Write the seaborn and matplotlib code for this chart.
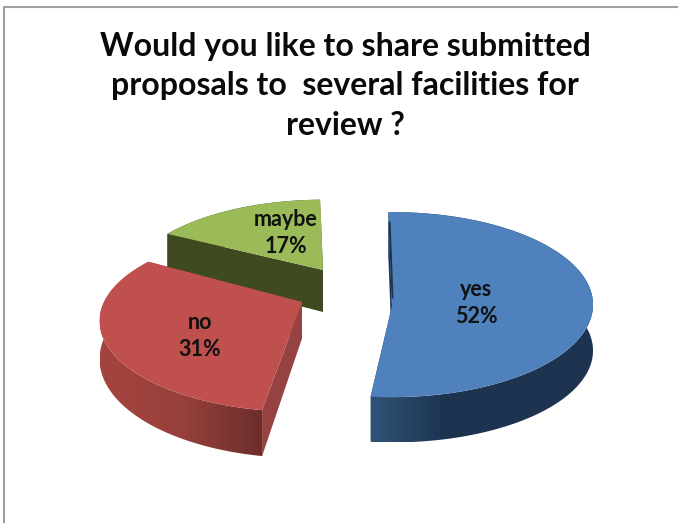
import numpy as np
import matplotlib
matplotlib.use("Agg")
import matplotlib.pyplot as plt
from matplotlib.patches import Polygon
from matplotlib.transforms import Transform
import seaborn as sns

TITLE = "Would you like to share submitted\nproposals to  several facilities for\nreview ?"
labels = ["yes", "no", "maybe"]
values = [52, 31, 17]
top_colors = ["#4f81bd", "#c0504d", "#9bbb59"]
side_colors = [["#305478", "#1d3350", "#1d3350", "#1d3350"],
               ["#a5443f", "#98403c", "#6c2d2b"],
               ["#3f4a20", "#3f4a20"]]
face_colors = ["#1d3350", "#964240", "#3f4a20"]

# how each slice sits on the page: centre, radii, perspective, rotation, thickness
layout = {
    "yes": dict(cx=392, cy=306, rx=201, k=92.5, a=-0.015, rot=0, thick=46),
    "no": dict(cx=302, cy=302, rx=198, k=87, a=0.209, rot=-3, thick=36.4),
    "maybe": dict(cx=323, cy=270, rx=193, k=85, a=0.209, rot=0, thick=42),
}
label_pos = {"yes": (476, 303), "no": (200, 336), "maybe": (286, 233)}
draw_order = {"maybe": 0, "no": 1, "yes": 2}


class SliceProjection(Transform):
    input_dims = 2
    output_dims = 2

    def __init__(self, cx, cy, rx, k, a, rot, thick):
        super().__init__()
        self.cx, self.cy, self.rx, self.k, self.a = cx, cy, rx, k, a
        self.rot = np.radians(rot)
        self.thick = thick

    def transform_non_affine(self, values):
        values = np.asarray(values, dtype=float)
        c, s = np.cos(self.rot), np.sin(self.rot)
        x = c * values[:, 0] - s * values[:, 1]
        y = s * values[:, 0] + c * values[:, 1]
        d = 1 + self.a * y
        return np.column_stack([self.cx + self.rx * x / d, self.cy - self.k * y / d])

    def lower(self, unit_pts):
        # same points on the underside of the slab
        pts = self.transform_non_affine(unit_pts)
        y = np.sin(self.rot) * unit_pts[:, 0] + np.cos(self.rot) * unit_pts[:, 1]
        pts[:, 1] += self.thick / (1 + self.a * y)
        return pts


def unit_arc(theta1, theta2, n=120):
    t = np.radians(np.linspace(theta1, theta2, n))
    return np.column_stack([np.cos(t), np.sin(t)])


sns.set_theme(style="white")
plt.rcParams["font.family"] = ["Lato", "DejaVu Sans"]

W, H = 678, 523
fig = plt.figure(figsize=(W / 100, H / 100), dpi=100, facecolor="white")
ax = fig.add_axes([0, 0, 1, 1])

wedges, _ = ax.pie(values, colors=top_colors, startangle=91, counterclock=False,
                   wedgeprops=dict(linewidth=0))

for wedge, name, side, face in zip(wedges, labels, side_colors, face_colors):
    proj = SliceProjection(**layout[name])
    z = 10 * draw_order[name]
    wedge.set_transform(proj + ax.transData)
    wedge.set_zorder(z + 3)
    wedge.set_clip_on(False)

    # curved outer side, with a left to right shade
    arc = unit_arc(wedge.theta1, wedge.theta2)
    outline = np.vstack([proj.transform_non_affine(arc), proj.lower(arc)[::-1]])
    clip = Polygon(outline, closed=True, transform=ax.transData, facecolor="none", edgecolor="none")
    ax.add_patch(clip)
    shade = np.linspace(0, 1, 256).reshape(1, -1)
    im = ax.imshow(shade, cmap=sns.blend_palette(side, as_cmap=True), aspect="auto", zorder=z + 1,
                   extent=[outline[:, 0].min(), outline[:, 0].max(), outline[:, 1].max(), outline[:, 1].min()])
    im.set_clip_path(clip)

    # flat cut faces, under the curved side
    for end in (wedge.theta1, wedge.theta2):
        edge = np.vstack([[0, 0], unit_arc(end, end, 1)])
        quad = np.vstack([proj.transform_non_affine(edge), proj.lower(edge)[::-1]])
        ax.add_patch(Polygon(quad, closed=True, facecolor=face, edgecolor="none", zorder=z))

    x, y = label_pos[name]
    ax.text(x, y, f"{name}\n{values[labels.index(name)]}%", ha="center", va="center",
            fontsize=15.5, fontweight="bold", color="#111111", linespacing=1.35, zorder=50)

# thin dark back edge on the blue slice
blue_proj = SliceProjection(**layout["yes"])
back_end = unit_arc(wedges[0].theta2, wedges[0].theta2, 1)[0]
back = blue_proj.transform_non_affine(np.array([back_end * 0.08, back_end * 0.9]))
ax.plot(back[:, 0] + 0.8, back[:, 1], color="#1d3350", lw=1.4, solid_capstyle="butt", zorder=40)

ax.text(345, 86, TITLE, ha="center", va="center", fontsize=23, fontweight="bold",
        color="#0a0a0a", linespacing=1.455)

# slide frame
ax.plot([4, 4, W], [H, 7, 7], color="#a0a0a0", lw=1.5, zorder=60)

ax.set_aspect("auto")
ax.set_xlim(0, W)
ax.set_ylim(H, 0)
ax.set_xticks([])
ax.set_yticks([])
ax.set_frame_on(False)

fig.savefig("out.png", dpi=100, facecolor="white")
